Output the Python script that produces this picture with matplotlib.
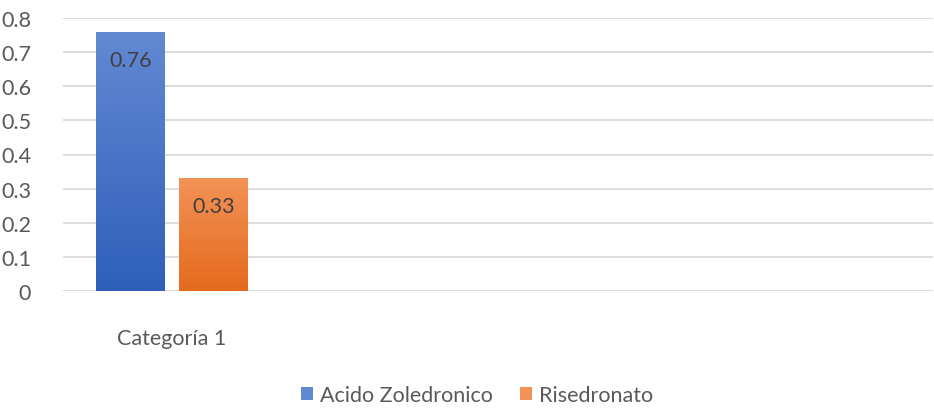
import matplotlib.pyplot as plt
import numpy as np
from matplotlib.colors import LinearSegmentedColormap

plt.rcParams['font.family'] = ['Lato', 'DejaVu Sans']

# datos
categorias = ["Categoría 1"]
series = ["Acido Zoledronico", "Risedronato"]
valores = [[0.76], [0.33]]
yticks = [0, 0.1, 0.2, 0.3, 0.4, 0.5, 0.6, 0.7, 0.8]

# colores (arriba, abajo) para el degradado de cada barra
degradados = [("#6289d3", "#2f5fb9"), ("#f39257", "#e46a1c")]

fig = plt.figure(figsize=(9.34, 4.10), dpi=100)
ax = fig.add_axes([63 / 934, 1 - 292 / 410, 870 / 934, 273 / 410])

ancho = 0.313
hueco = 0.069
x = np.arange(len(categorias))
desp = [-(ancho + hueco) / 2, (ancho + hueco) / 2]

grad = np.linspace(1, 0, 256).reshape(-1, 1)
for i, nombre in enumerate(series):
    barras = ax.bar(x + desp[i], valores[i], ancho, color=degradados[i][0],
                    label=nombre, zorder=3)
    cmap = LinearSegmentedColormap.from_list("g%d" % i, [degradados[i][1], degradados[i][0]])
    for b, v in zip(barras, valores[i]):
        x0 = b.get_x()
        img = ax.imshow(grad, cmap=cmap, aspect="auto", zorder=4,
                        extent=[x0, x0 + ancho, 0, v], origin="upper")
        img.set_clip_path(b)
        ax.text(x0 + ancho / 2, v - 0.082, "%.2f" % v, ha="center", va="center",
                fontsize=15.5, color="#404040", zorder=5)

ax.set_xlim(-0.5, 3.5)
ax.set_ylim(0, 0.8)
ax.set_yticks(yticks)
ax.set_yticklabels([("%g" % t) for t in yticks])
ax.set_xticks(x)
ax.set_xticklabels(categorias)
ax.tick_params(axis="both", length=0, labelsize=15.5, colors="#595959")
ax.tick_params(axis="y", pad=23)
ax.tick_params(axis="x", pad=27)
ax.grid(axis="y", color="#d9d9d9", linewidth=1.3, zorder=0)
for s in ax.spines.values():
    s.set_visible(False)

fig.legend(loc="center", bbox_to_anchor=(477 / 934, 1 - 396 / 410), ncol=2,
           frameon=False, fontsize=15.5, handlelength=0.55, handleheight=0.55,
           handletextpad=0.3, columnspacing=1.3, labelcolor="#595959")

fig.savefig("out.png", dpi=100)
